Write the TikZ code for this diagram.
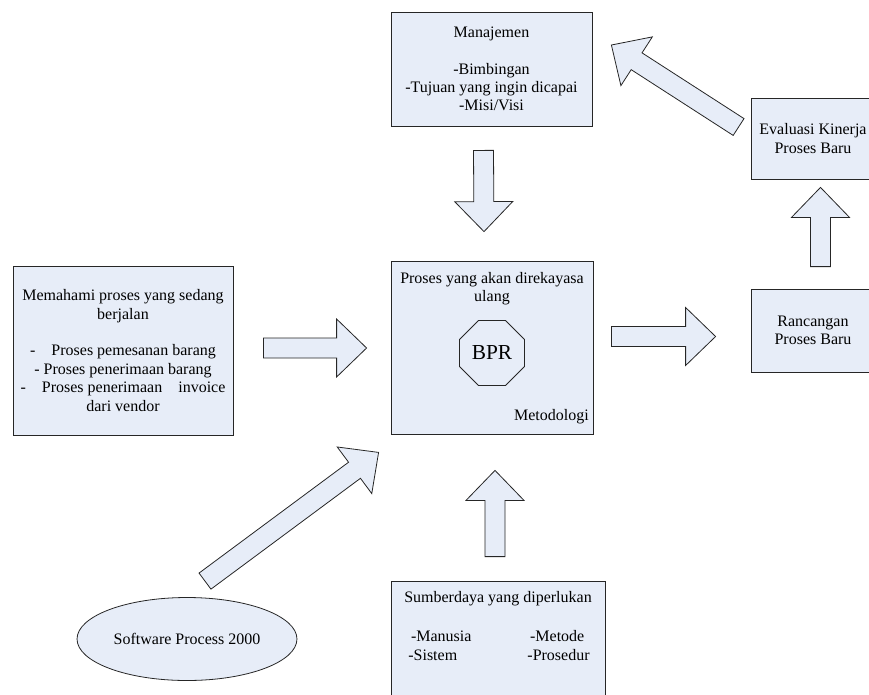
\documentclass[tikz,border=0pt]{standalone}
\usepackage{fontspec}
\setmainfont{Liberation Serif}
\usetikzlibrary{calc,shapes.geometric}
\definecolor{boxblue}{RGB}{231,237,248}

% block arrow from tail (#1) to tip (#2)
\newcommand{\blockarrow}[2]{%
  \path ($(#2)!22.5pt!(#1)$) coordinate (hb);
  \draw[barrow] ($(#1)!7.5pt!90:(#2)$) -- ($(hb)!7.5pt!90:(#2)$) -- ($(hb)!21.75pt!90:(#2)$) -- (#2)
    -- ($(hb)!21.75pt!-90:(#2)$) -- ($(hb)!7.5pt!-90:(#2)$) -- ($(#1)!7.5pt!-90:(#2)$) -- cycle;}

\begin{document}
\begin{tikzpicture}[x=0.75pt,y=-0.75pt,line join=miter,
  font=\fontsize{12}{13.8}\selectfont,
  box/.style={draw=black!85,fill=boxblue,line width=0.6pt},
  barrow/.style={draw=black!85,fill=boxblue,line width=0.6pt}]
\useasboundingbox (0,0) rectangle (869,694);
\clip (0,0) rectangle (869,694);
% boxes
\node[box,minimum width=150.75pt,minimum height=85.5pt,align=center] (man) at (491.5,69)
  {Manajemen\\[13.8pt] -Bimbingan\\ -Tujuan yang ingin dicapai\\ -Misi/Visi};
\node[box,minimum width=165pt,minimum height=126.75pt,align=center] (mem) at (123,350.5)
  {Memahami proses yang sedang\\ berjalan\\[13.8pt] -\quad Proses pemesanan barang\\ - Proses penerimaan barang\\ -\quad Proses penerimaan\quad invoice\\ dari vendor};
\node[box,minimum width=151.5pt,minimum height=129.75pt] (proc) at (492,347.5) {};
\node[align=center,anchor=north] (proctitle) at ($(proc.north)+(0,7)$) {Proses yang akan direkayasa\\ ulang};
\node[draw=black!85,line width=0.6pt,regular polygon,regular polygon sides=8,minimum size=52.8pt,inner sep=0pt,
  font=\fontsize{16}{18}\selectfont] (bpr) at (492,353) {BPR};
\node[anchor=south east] (metod) at ($(proc.south east)+(0,-6)$) {Metodologi};
\node[box,minimum width=93pt,minimum height=60.75pt,align=center] (eval) at (813,138.5) {Evaluasi Kinerja\\ Proses Baru};
\node[box,minimum width=93pt,minimum height=62.25pt,align=center] (ranc) at (813,330.5) {Rancangan\\ Proses Baru};
\node[box,minimum width=160.5pt,minimum height=97.5pt] (sum) at (498,646) {};
\node[anchor=north] (sumtitle) at ($(sum.north)+(0,6)$) {Sumberdaya yang diperlukan};
\node[anchor=north,inner sep=0pt] (sumlist) at ($(sum.north)+(1,48)$)
  {\begin{tabular}{l@{\hspace{42pt}}l} \,-Manusia & \,-Metode\\ -Sistem & -Prosedur\end{tabular}};
\node[box,ellipse,minimum width=148.5pt,minimum height=62.25pt] (sw) at (187,639) {Software Process 2000};
% arrow ends
\coordinate (a1t) at ($(man.south)+(-8,24)$);
\coordinate (a1h) at ($(proc.north)+(-8,-29)$);
\coordinate (a2t) at ($(mem.east)+(30,-2.5)$);
\coordinate (a2h) at ($(proc.west)+(-24,0.5)$);
\coordinate (a3t) at ($(proc.east)+(18,-11)$);
\coordinate (a3h) at ($(ranc.west)+(-35,6)$);
\coordinate (a4t) at ($(sum.north)+(-3,-24)$);
\coordinate (a4h) at ($(proc.south)+(3,36)$);
\coordinate (a5t) at ($(ranc.north)+(7.5,-22)$);
\coordinate (a5h) at ($(eval.south)+(7.5,8)$);
\coordinate (a6t) at ($(eval.west)+(-12,-11.5)$);
\coordinate (a6h) at ($(man.east)+(19,-24)$);
\coordinate (a7t) at ($(sw.north)+(18,-16)$);
\coordinate (a7h) at ($(proc.south west)+(-12,18)$);
% arrows
\blockarrow{a1t}{a1h}
\blockarrow{a2t}{a2h}
\blockarrow{a3t}{a3h}
\blockarrow{a4t}{a4h}
\blockarrow{a5t}{a5h}
\blockarrow{a6t}{a6h}
\blockarrow{a7t}{a7h}
\end{tikzpicture}
\end{document}
